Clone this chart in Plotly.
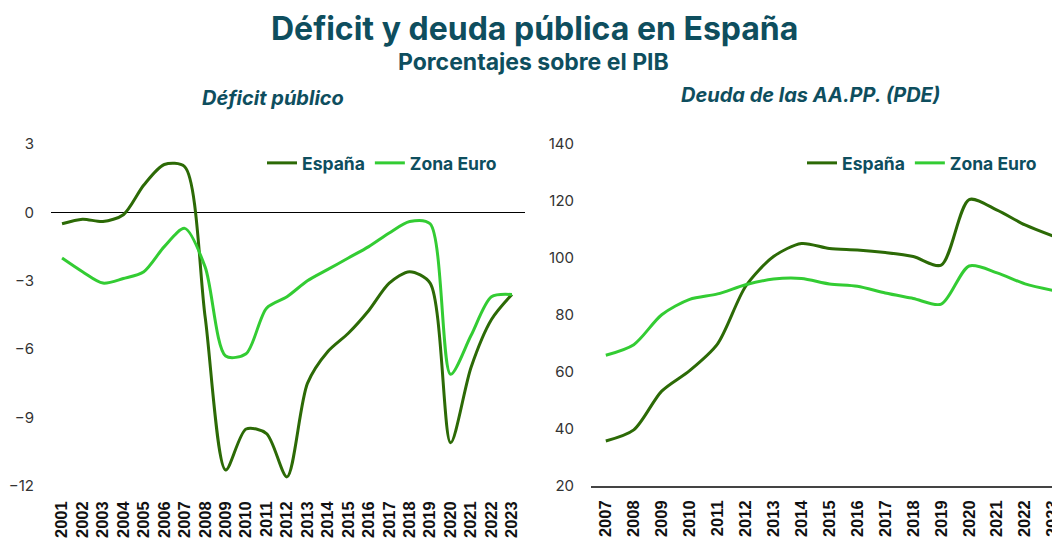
import plotly.graph_objects as go

years_def = list(range(2001, 2024))
spain_deficit = [-0.5, -0.3, -0.4, -0.1, 1.2, 2.1, 2.0, -4.6, -11.3, -9.5, -9.7, -11.6,
                 -7.5, -6.1, -5.3, -4.3, -3.1, -2.6, -3.1, -10.1, -6.8, -4.7, -3.6]
euro_deficit = [-2.0, -2.6, -3.1, -2.9, -2.6, -1.5, -0.7, -2.4, -6.3, -6.2, -4.2, -3.7,
                -3.0, -2.5, -2.0, -1.5, -0.9, -0.4, -0.5, -7.1, -5.4, -3.7, -3.6]

years_debt = list(range(2007, 2024))
spain_debt = [35.8, 39.7, 53.3, 60.5, 69.9, 90.0, 100.5, 105.1, 103.3, 102.8, 101.9,
              100.5, 97.5, 120.5, 116.8, 111.6, 107.7]
euro_debt = [65.9, 69.6, 80.1, 85.5, 87.4, 90.6, 92.6, 92.8, 90.9, 90.1, 87.7,
             85.8, 83.8, 97.2, 94.8, 90.9, 88.6]

deficit_ticks = [3, 0, -3, -6, -9, -12]
debt_ticks = [140, 120, 100, 80, 60, 40, 20]

SPAIN = "#2C6A06"
EURO = "#33CC33"
TEAL = "#0E4E5E"

W, H = 1060, 540
OFF = 8  # page body margin offset


def px(x):
    return (x - OFF) / W


def py(y):
    return 1 - (y - OFF) / H


fig = go.Figure()

fig.add_trace(go.Scatter(x=years_def, y=spain_deficit, name="España", mode="lines",
                         line=dict(color=SPAIN, width=3, shape="spline", smoothing=0.8),
                         xaxis="x", yaxis="y", legend="legend"))
fig.add_trace(go.Scatter(x=years_def, y=euro_deficit, name="Zona Euro", mode="lines",
                         line=dict(color=EURO, width=3, shape="spline", smoothing=0.8),
                         xaxis="x", yaxis="y", legend="legend"))
fig.add_trace(go.Scatter(x=years_debt, y=spain_debt, name="España", mode="lines",
                         line=dict(color=SPAIN, width=3, shape="spline", smoothing=0.8),
                         xaxis="x2", yaxis="y2", legend="legend2"))
fig.add_trace(go.Scatter(x=years_debt, y=euro_debt, name="Zona Euro", mode="lines",
                         line=dict(color=EURO, width=3, shape="spline", smoothing=0.8),
                         xaxis="x2", yaxis="y2", legend="legend2"))

tickfont_x = dict(family="Liberation Sans, Arial", size=16.5, color="#111111")
tickfont_y = dict(family="Inter, Roboto", size=15, color="#333333")
legfont = dict(family="Inter, Noto Sans", size=17.5, color=TEAL, weight="bold")

fig.update_layout(
    width=W, height=H,
    template="none",
    margin=dict(l=0, r=0, t=0, b=0, pad=0, autoexpand=False),
    paper_bgcolor="white", plot_bgcolor="white",
    xaxis=dict(domain=[px(51), px(525)], range=[2000.46, 2023.64],
               tickvals=years_def, ticktext=[f"<b>{y}</b>" for y in years_def],
               tickangle=-90, tickfont=tickfont_x, showgrid=False, zeroline=False,
               showline=False, ticks="", anchor="y", ticklabelstandoff=11,
               automargin=False),
    yaxis=dict(domain=[py(486), py(144)], range=[-12, 3], tickvals=deficit_ticks,
               tickfont=tickfont_y, showgrid=False, zeroline=True, zerolinecolor="#000000",
               zerolinewidth=1, showline=False, ticks="", anchor="x", ticklabelstandoff=16,
               automargin=False),
    xaxis2=dict(domain=[px(591), px(1060)], range=[2006.47, 2023.25],
                tickvals=years_debt, ticktext=[f"<b>{y}</b>" for y in years_debt],
                tickangle=-90, tickfont=tickfont_x, showgrid=False, zeroline=False,
                showline=True, linecolor="#444444", linewidth=1.5, ticks="",
                anchor="y2", ticklabelstandoff=6, automargin=False),
    yaxis2=dict(domain=[py(486), py(144)], range=[20, 140], tickvals=debt_ticks,
                tickfont=tickfont_y, showgrid=False, zeroline=False, showline=False,
                ticks="", anchor="x2", ticklabelstandoff=16, automargin=False),
    legend=dict(x=px(262), y=py(163), xanchor="left", yanchor="middle",
                orientation="h", font=legfont, bgcolor="rgba(0,0,0,0)",
                itemwidth=30, tracegroupgap=0, borderwidth=0),
    legend2=dict(x=px(802), y=py(163), xanchor="left", yanchor="middle",
                 orientation="h", font=legfont, bgcolor="rgba(0,0,0,0)",
                 itemwidth=30, tracegroupgap=0, borderwidth=0),
    annotations=[
        dict(text="<b>Déficit y deuda pública en España</b>", x=px(534), y=py(29),
             xref="paper", yref="paper", xanchor="center", yanchor="middle", showarrow=False,
             font=dict(family="Inter, Noto Sans", size=32, color=TEAL)),
        dict(text="<b>Porcentajes sobre el PIB</b>", x=px(533), y=py(62),
             xref="paper", yref="paper", xanchor="center", yanchor="middle", showarrow=False,
             font=dict(family="Inter, Noto Sans", size=23, color=TEAL)),
        dict(text="<b><i>Déficit público</i></b>", x=px(273), y=py(98),
             xref="paper", yref="paper", xanchor="center", yanchor="middle", showarrow=False,
             font=dict(family="Inter, Noto Sans", size=20, color=TEAL)),
        dict(text="<b><i>Deuda de las AA.PP. (PDE)</i></b>", x=px(810), y=py(95),
             xref="paper", yref="paper", xanchor="center", yanchor="middle", showarrow=False,
             font=dict(family="Inter, Noto Sans", size=20, color=TEAL)),
    ],
    showlegend=True,
)

fig.write_html("out.html")
